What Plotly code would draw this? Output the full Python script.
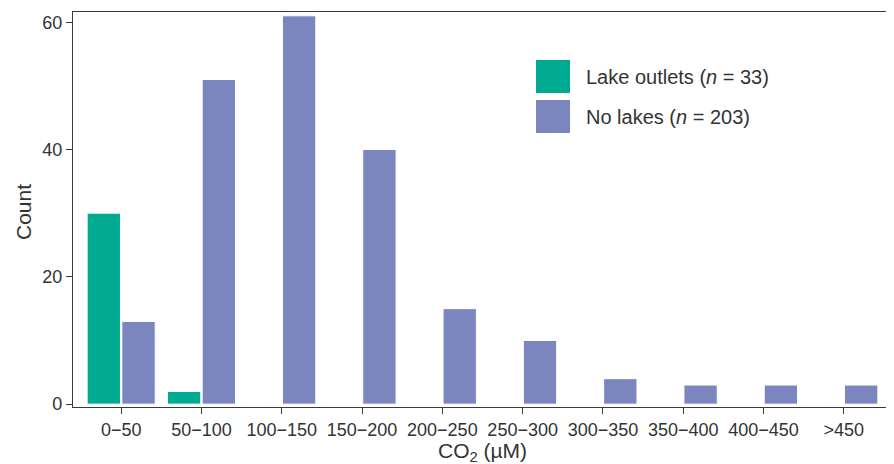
import plotly.graph_objects as go

categories = ["0\u221250", "50\u2212100", "100\u2212150", "150\u2212200", "200\u2212250",
              "250\u2212300", "300\u2212350", "350\u2212400", "400\u2212450", ">450"]
lake_outlets = [30, 2, None, None, None, None, None, None, None, None]
no_lakes = [13, 51, 61, 40, 15, 10, 4, 3, 3, 3]
y_ticks = [0, 20, 40, 60]
legend_labels = ["Lake outlets (<i>n</i> = 33)", "No lakes (<i>n</i> = 203)"]

GREEN = "#00AA90"
BLUE = "#7B86BE"
FONT = "Liberation Sans, Arial, sans-serif"
TXT = "#333333"

# the page body has an 8px margin, so the figure is drawn 8px in from the window corner
OFF = 8
W, H = 894 - OFF, 464 - OFF
L, R, T, B = 65, 2, 4, 57
PW, PH = W - L - R, H - T - B

def px_x(x):
    # screen x -> paper coordinate
    return (x - OFF - L) / PW

def px_y(y):
    return 1 - (y - OFF - T) / PH

fig = go.Figure()
fig.add_trace(go.Bar(x=categories, y=lake_outlets, name=legend_labels[0],
                     marker=dict(color=GREEN, line=dict(color="white", width=1)),
                     showlegend=False))
fig.add_trace(go.Bar(x=categories, y=no_lakes, name=legend_labels[1],
                     marker=dict(color=BLUE, line=dict(color="white", width=1)),
                     showlegend=False))

# legend drawn manually for large key squares
colors = [GREEN, BLUE]
for i, (lab, c) in enumerate(zip(legend_labels, colors)):
    top = 60 + i * 40
    fig.add_shape(type="rect", xref="paper", yref="paper",
                  x0=px_x(536), x1=px_x(570),
                  y0=px_y(top + 33), y1=px_y(top),
                  fillcolor=c, line=dict(width=0))
    fig.add_annotation(xref="paper", yref="paper", x=px_x(584),
                       y=px_y(top + 16.5), text=lab, showarrow=False,
                       xanchor="left", yanchor="middle",
                       font=dict(family=FONT, size=20, color=TXT))

# axis titles
fig.add_annotation(xref="paper", yref="paper", x=px_x(482), y=px_y(452),
                   text="CO<sub>2</sub> (\u00b5M)", showarrow=False,
                   xanchor="center", yanchor="middle",
                   font=dict(family=FONT, size=21, color=TXT))
fig.add_annotation(xref="paper", yref="paper", x=px_x(23), y=px_y(212),
                   text="Count", showarrow=False, textangle=-90,
                   xanchor="center", yanchor="middle",
                   font=dict(family=FONT, size=21, color=TXT))

fig.update_layout(
    width=W, height=H,
    margin=dict(l=L, r=R, t=T, b=B),
    paper_bgcolor="white", plot_bgcolor="white",
    barmode="group", bargap=0.135, bargroupgap=0.04,
    font=dict(family=FONT, color=TXT),
)
fig.update_xaxes(
    type="category", categoryorder="array", categoryarray=categories,
    range=[-0.6, 9.6], automargin=False,
    showline=True, linecolor="#3a3a3a", linewidth=1.3, mirror=True,
    ticks="outside", ticklen=6, tickcolor="#3a3a3a", tickwidth=1.3,
    tickfont=dict(family=FONT, size=18, color=TXT),
    showgrid=False, zeroline=False,
)
fig.update_yaxes(
    range=[-0.45, 61.6], tickvals=y_ticks, automargin=False,
    showline=True, linecolor="#3a3a3a", linewidth=1.3, mirror=True,
    ticks="outside", ticklen=6, tickcolor="#3a3a3a", tickwidth=1.3,
    tickfont=dict(family=FONT, size=18, color=TXT),
    showgrid=False, zeroline=False,
)

fig.write_html("out.html")
